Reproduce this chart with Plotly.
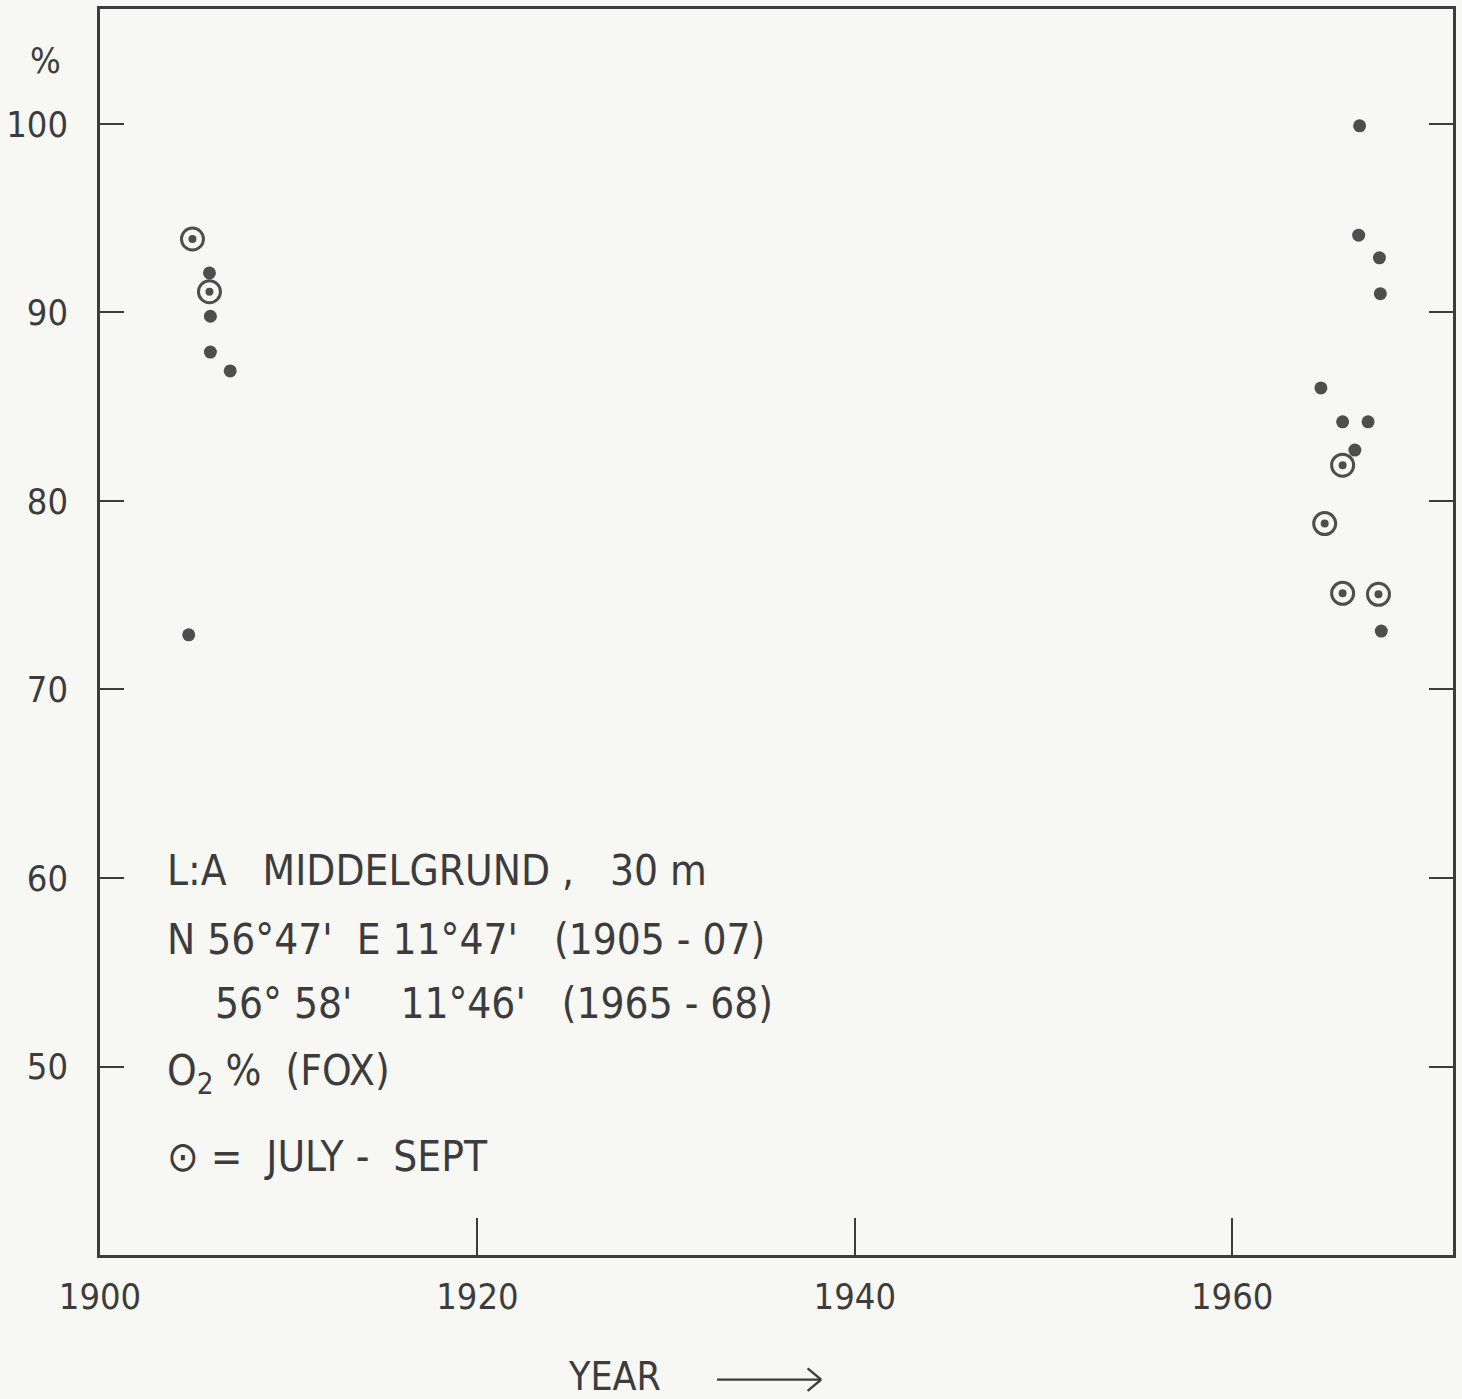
import plotly.graph_objects as go

# --- data ---
dot_years = [1905.8, 1905.85, 1905.85, 1906.9, 1904.7,
             1966.75, 1966.7, 1967.8, 1967.85,
             1964.7, 1965.85, 1967.2, 1966.5, 1967.9]
dot_values = [92.1, 89.8, 87.9, 86.9, 72.9,
              99.9, 94.1, 92.9, 91.0,
              86.0, 84.2, 84.2, 82.7, 73.1]

jul_sep_years = [1904.9, 1905.8, 1965.85, 1964.9, 1965.85, 1967.75]
jul_sep_values = [93.9, 91.1, 81.9, 78.8, 75.1, 75.05]

x_ticks = [1900, 1920, 1940, 1960]
y_ticks = [50, 60, 70, 80, 90, 100]

NB = "\u00a0"
info_lines = [
    "L:A" + NB * 3 + "MIDDELGRUND" + NB + "," + NB * 3 + "30" + NB + "m",
    "N" + NB + "56°47'" + NB * 2 + "E" + NB + "11°47'" + NB * 3 + "(1905" + NB + "-" + NB + "07)",
    NB * 4 + "56°" + NB + "58'" + NB * 4 + "11°46'" + NB * 3 + "(1965" + NB + "-" + NB + "68)",
    "O<sub>2</sub>" + NB + "%" + NB * 2 + "(FOX)",
    "⊙" + NB + "=" + NB * 2 + "JULY" + NB + "-" + NB * 2 + "SEPT",
]
info_y = [60.38, 56.73, 53.34, 49.63, 45.23]

FONT = "DejaVu Sans Condensed, Liberation Sans Narrow, DejaVu Sans, sans-serif"
INK = "#3c3c3c"
MARK = "#4e4e4e"

fig = go.Figure()
fig.add_trace(go.Scatter(
    x=dot_years, y=dot_values, mode="markers",
    marker=dict(size=13, color=MARK, line=dict(width=0)),
    showlegend=False, hoverinfo="skip"))
fig.add_trace(go.Scatter(
    x=jul_sep_years, y=jul_sep_values, mode="markers",
    marker=dict(size=22, symbol="circle-open", color=MARK, line=dict(width=3, color=MARK)),
    showlegend=False, hoverinfo="skip"))
fig.add_trace(go.Scatter(
    x=jul_sep_years, y=jul_sep_values, mode="markers",
    marker=dict(size=8, color=MARK, line=dict(width=0)),
    showlegend=False, hoverinfo="skip"))

for txt, yv in zip(info_lines, info_y):
    fig.add_annotation(x=1903.47, y=yv, xref="x", yref="y", text=txt,
                       showarrow=False, xanchor="left", yanchor="middle",
                       font=dict(family=FONT, size=42, color=INK))

fig.add_annotation(x=-0.0405, y=0.959, xref="paper", yref="paper", text="%",
                   showarrow=False, xanchor="center", yanchor="middle",
                   font=dict(family=FONT, size=36, color=INK))
fig.add_annotation(x=0.3446, y=-0.0975, xref="paper", yref="paper", text="YEAR",
                   showarrow=False, xanchor="left", yanchor="middle",
                   font=dict(family=FONT, size=39, color=INK))

# arrow next to YEAR
ay = -0.1
fig.add_shape(type="line", xref="paper", yref="paper", x0=0.456, x1=0.533, y0=ay, y1=ay,
              line=dict(color=INK, width=2.4))
fig.add_shape(type="line", xref="paper", yref="paper", x0=0.523, x1=0.533, y0=ay + 0.009, y1=ay,
              line=dict(color=INK, width=2.4))
fig.add_shape(type="line", xref="paper", yref="paper", x0=0.523, x1=0.533, y0=ay - 0.009, y1=ay,
              line=dict(color=INK, width=2.4))

fig.update_layout(
    width=1462, height=1399,
    margin=dict(l=95, r=9, t=6, b=144),
    paper_bgcolor="#f7f7f4", plot_bgcolor="#f7f7f4",
    font=dict(family=FONT, size=34, color=INK),
    xaxis=dict(range=[1900, 1971.7], tickvals=x_ticks, ticks="inside", ticklen=37,
               tickwidth=2.2, tickcolor=INK, showline=True, linecolor=INK, linewidth=2.6,
               mirror=True, showgrid=False, zeroline=False, ticklabelstandoff=8,
               tickfont=dict(family=FONT, size=36, color=INK)),
    yaxis=dict(range=[40, 106.1], tickvals=y_ticks, ticks="inside", ticklen=24,
               tickwidth=2.2, tickcolor=INK, showline=True, linecolor=INK, linewidth=2.6,
               mirror="ticks", showgrid=False, zeroline=False, ticklabelstandoff=22,
               tickfont=dict(family=FONT, size=36, color=INK)),
)

fig.write_html("out.html", config={"displayModeBar": False},
               post_script="document.body.style.margin='0px';document.body.style.background='#f7f7f4';")
